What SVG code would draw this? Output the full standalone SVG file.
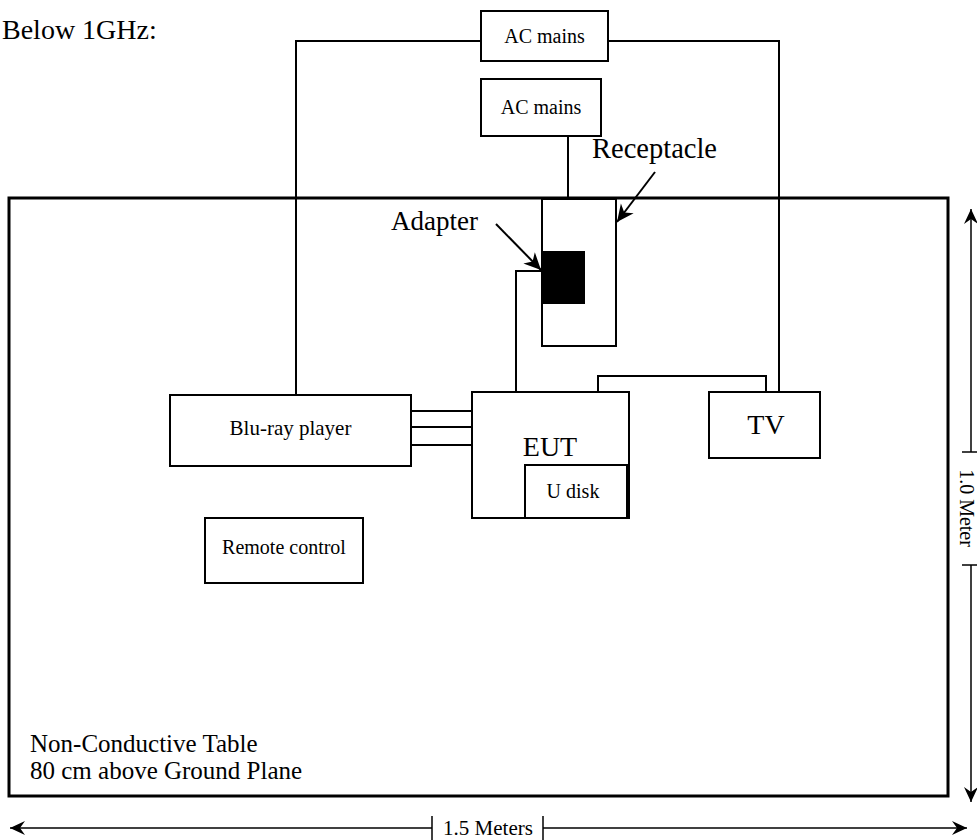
<svg xmlns="http://www.w3.org/2000/svg" width="977" height="840" viewBox="0 0 977 840">
<defs>
<marker id="ah" viewBox="-16 -8 18 16" markerWidth="18" markerHeight="16" refX="0" refY="0" orient="auto-start-reverse" markerUnits="userSpaceOnUse">
<path d="M0,0 L-15,-7 L-10,0 L-15,7 Z" fill="#000"/>
</marker>
<marker id="ap" viewBox="-18 -9 20 18" markerWidth="20" markerHeight="18" refX="0" refY="0" orient="auto" markerUnits="userSpaceOnUse">
<path d="M0,0 L-17,-8 L-12,0 L-17,8 Z" fill="#000"/>
</marker>
</defs>
<style>
text{font-family:"Liberation Serif","Times New Roman",serif;fill:#000}
.box{fill:#fff;stroke:#000;stroke-width:2}
.ln{fill:none;stroke:#000;stroke-width:2}
.thin{fill:none;stroke:#000;stroke-width:1.5}
</style>
<rect width="977" height="840" fill="#fff"/>
<text x="2" y="39" font-size="28">Below 1GHz:</text>

<g id="table">
<rect x="9" y="198" width="939" height="598" fill="none" stroke="#000" stroke-width="3"/>
<text x="30" y="752" font-size="25">Non-Conductive Table</text>
<text x="30" y="779" font-size="25">80 cm above Ground Plane</text>
</g>

<g id="connectors">
<polyline class="ln" points="481,41 296,41 296,395"/>
<polyline class="ln" points="608,41 779,41 779,392"/>
<line class="ln" x1="568" y1="136" x2="568" y2="208"/>
<polyline class="ln" points="542,271 516,271 516,392"/>
<polyline class="ln" points="598,392 598,376 766,376 766,392"/>
<line class="ln" x1="411" y1="411" x2="472" y2="411"/>
<line class="ln" x1="411" y1="427" x2="472" y2="427"/>
<line class="ln" x1="411" y1="445" x2="472" y2="445"/>
<line class="ln" x1="655" y1="172" x2="617" y2="222" marker-end="url(#ap)"/>
<line class="ln" x1="496" y1="224" x2="541" y2="270" marker-end="url(#ap)"/>
</g>

<g id="ac-mains-1">
<rect class="box" x="481" y="11" width="127" height="50"/>
<text x="544.5" y="43" font-size="20" text-anchor="middle">AC mains</text>
</g>
<g id="ac-mains-2">
<rect class="box" x="481" y="79" width="120" height="57"/>
<text x="541" y="114" font-size="20" text-anchor="middle">AC mains</text>
</g>
<g id="receptacle">
<rect class="box" x="542" y="199" width="74" height="147"/>
<text x="592" y="158" font-size="28.5">Receptacle</text>
</g>
<g id="adapter">
<rect x="542" y="251" width="43" height="53" fill="#000"/>
<text x="391" y="230" font-size="27">Adapter</text>
</g>
<g id="eut">
<rect class="box" x="472" y="392" width="157" height="126"/>
<text x="550" y="456" font-size="28" text-anchor="middle">EUT</text>
</g>
<g id="u-disk">
<rect class="box" x="525" y="465" width="102" height="53"/>
<text x="573" y="498" font-size="20" text-anchor="middle">U disk</text>
</g>
<g id="tv">
<rect class="box" x="709" y="392" width="111" height="66"/>
<text x="766" y="434" font-size="28" text-anchor="middle">TV</text>
</g>
<g id="bluray">
<rect class="box" x="170" y="395" width="241" height="71"/>
<text x="290.5" y="435" font-size="21" text-anchor="middle">Blu-ray player</text>
</g>
<g id="remote">
<rect class="box" x="205" y="518" width="158" height="65"/>
<text x="284" y="554" font-size="20" text-anchor="middle">Remote control</text>
</g>

<g id="dim-width">
<line class="thin" x1="432" y1="828" x2="10" y2="828" marker-end="url(#ah)"/>
<line class="thin" x1="543" y1="828" x2="967" y2="828" marker-end="url(#ah)"/>
<line class="thin" x1="432" y1="816" x2="432" y2="840"/>
<line class="thin" x1="543" y1="816" x2="543" y2="840"/>
<text x="488" y="835" font-size="21" text-anchor="middle">1.5 Meters</text>
</g>
<g id="dim-height">
<line class="thin" x1="971" y1="452" x2="971" y2="209" marker-end="url(#ah)"/>
<line class="thin" x1="971" y1="565" x2="971" y2="802" marker-end="url(#ah)"/>
<line class="thin" x1="962" y1="452" x2="977" y2="452"/>
<line class="thin" x1="962" y1="565" x2="977" y2="565"/>
<text transform="translate(960,508) rotate(90)" font-size="20" text-anchor="middle">1.0 Meter</text>
</g>
</svg>
